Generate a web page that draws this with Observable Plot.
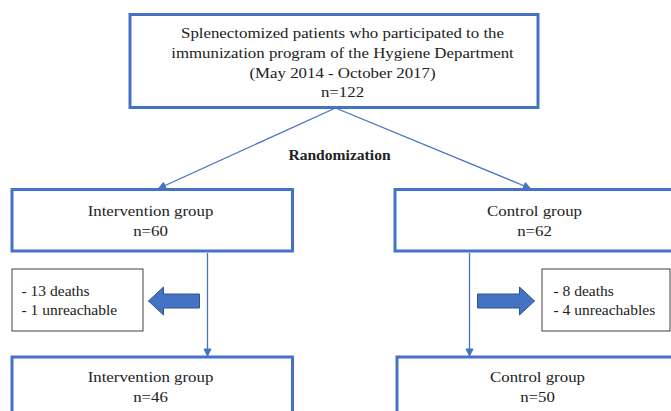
<!DOCTYPE html>
<html><head><meta charset="utf-8">
<script src="https://cdn.jsdelivr.net/npm/d3@7"></script>
<script src="https://cdn.jsdelivr.net/npm/@observablehq/plot@0.6"></script>
<style>html,body{margin:0;padding:0;background:#fff}#chart svg{display:block}</style>
</head><body><div id="chart"></div>
<script>
// ---------- data ----------
const sourceLines = ["Splenectomized patients who participated to the", "immunization program of the Hygiene Department", "(May 2014 - October 2017)"];
const enrolledN = 122;
const splitLabel = "Randomization";
const groupNames = ["Intervention group", "Control group"];
const randomizedN = [60, 62];
const deathsN = [13, 8];
const unreachableN = [1, 4];
const finalN = [46, 50];

// ---------- layout ----------
const W = 671, H = 411;
const blue = "#4472C4", darkBlue = "#2F528F", grey = "#404040";
const font = "Liberation Serif, Times New Roman, serif";
const stretch = 1.08;
const srcBox = {x1: 130, x2: 538, y1: 14.5, y2: 107.5, tx: 342, base: 96.7};
const row1 = {y1: 189.5, y2: 251, base: 235};
const exRow = {y1: 269, y2: 331, base: 315, cy: 300.5};
const row2 = {y1: 357, y2: 425, base: 401};
const cols = [
  {x1: 12, x2: 292.5, tx: 150, lineX: 207, join: 158, side: {x1: 12, x2: 143, tx: 21}, arrow: {tip: 148, tail: 199}},
  {x1: 395, x2: 676, tx: 534, lineX: 469, join: 530, side: {x1: 542, x2: 670, tx: 553}, arrow: {tip: 534, tail: 477}}
];
const cols2 = [{x1: 12, x2: 292.5, tx: 150}, {x1: 397, x2: 676, tx: 537}];
const hubX = 335;

// ---------- derived mark data ----------
const mainBoxes = [
  {...srcBox},
  ...cols.map(c => ({x1: c.x1, x2: c.x2, y1: row1.y1, y2: row1.y2})),
  ...cols2.map(c => ({x1: c.x1, x2: c.x2, y1: row2.y1, y2: row2.y2}))
];
const sideBoxes = cols.map(c => ({x1: c.side.x1, x2: c.side.x2, y1: exRow.y1, y2: exRow.y2}));
const connectors = [
  ...cols.map(c => ({x1: hubX, y1: srcBox.y2, x2: c.join, y2: row1.y1 - 1.5})),
  ...cols.map(c => ({x1: c.lineX, y1: row1.y2 + 1.5, x2: c.lineX, y2: row2.y1 - 1.5}))
];
function head(l, i, L = 7, w = 7) {
  const dx = l.x2 - l.x1, dy = l.y2 - l.y1, d = Math.hypot(dx, dy);
  const ux = dx / d, uy = dy / d, nx = -uy, ny = ux;
  const bx = l.x2 - ux * L, by = l.y2 - uy * L;
  return [[l.x2, l.y2], [bx + nx * w / 2, by + ny * w / 2], [bx - nx * w / 2, by - ny * w / 2], [l.x2, l.y2]]
    .map(([x, y]) => ({x, y, id: i}));
}
const heads = connectors.flatMap((l, i) => head(l, i));
function block(a, i, body = 7, hw = 14, hl = 15, cy = exRow.cy) {
  const s = Math.sign(a.tail - a.tip), hb = a.tip + s * hl;
  return [[a.tip, cy], [hb, cy - hw], [hb, cy - body], [a.tail, cy - body], [a.tail, cy + body], [hb, cy + body], [hb, cy + hw], [a.tip, cy]]
    .map(([x, y]) => ({x, y, id: i}));
}
const blocks = cols.flatMap((c, i) => block(c.arrow, i));

const srcText = [{x: srcBox.tx, y: srcBox.base, t: [...sourceLines, "n=" + enrolledN].join("\n")}];
const grp1Text = cols.map((c, i) => ({x: c.tx, y: row1.base, t: groupNames[i] + "\nn=" + randomizedN[i]}));
const grp2Text = cols2.map((c, i) => ({x: c.tx, y: row2.base, t: groupNames[i] + "\nn=" + finalN[i]}));
const exText = cols.map((c, i) => ({x: c.side.tx, y: exRow.base - 1,
  t: `- ${deathsN[i]} deaths\n- ${unreachableN[i]} ${unreachableN[i] === 1 ? "unreachable" : "unreachables"}`}));

const chart = Plot.plot({
  width: W, height: H, margin: 0,
  x: {domain: [0, W], range: [0, W], axis: null},
  y: {domain: [0, H], range: [0, H], axis: null},
  style: {background: "white", fontFamily: font},
  marks: [
    Plot.link(connectors, {x1: "x1", y1: "y1", x2: "x2", y2: "y2", stroke: blue, strokeWidth: 1.3}),
    Plot.line(heads, {x: "x", y: "y", z: "id", fill: blue, stroke: blue, strokeWidth: 1, curve: "linear"}),
    Plot.rect(mainBoxes, {x1: "x1", x2: "x2", y1: "y1", y2: "y2", fill: "white", stroke: blue, strokeWidth: 3}),
    Plot.rect(sideBoxes, {x1: "x1", x2: "x2", y1: "y1", y2: "y2", fill: "white", stroke: grey, strokeWidth: 1}),
    Plot.line(blocks, {x: "x", y: "y", z: "id", fill: blue, stroke: darkBlue, strokeWidth: 1}),
    Plot.text(srcText, {x: "x", y: "y", text: "t", fontSize: 15.6, lineHeight: 19.7 / 15.6, lineAnchor: "bottom", fill: "#222", fontFamily: font}),
    Plot.text(grp1Text, {x: "x", y: "y", text: "t", fontSize: 15.6, lineHeight: 19.3 / 15.6, lineAnchor: "bottom", fill: "#222", fontFamily: font}),
    Plot.text(grp2Text, {x: "x", y: "y", text: "t", fontSize: 15.6, lineHeight: 19.3 / 15.6, lineAnchor: "bottom", fill: "#222", fontFamily: font}),
    Plot.text(exText, {x: "x", y: "y", text: "t", fontSize: 14.4, lineHeight: 18.3 / 14.4, lineAnchor: "bottom", textAnchor: "start", fill: "#222", fontFamily: font}),
    Plot.text([{x: 339, y: 159, t: splitLabel}], {x: "x", y: "y", text: "t", fontSize: 15.6, fontWeight: "bold", lineAnchor: "bottom", fill: "#222", fontFamily: font, className: "bold-label"})
  ]
});
// slight horizontal widening of the regular serif labels to match the reference's wider face
d3.select(chart).selectAll("text").each(function () {
  if (this.closest(".bold-label")) return;
  const t = this.getAttribute("transform");
  if (t) this.setAttribute("transform", t + ` scale(${stretch},1)`);
});
document.getElementById("chart").appendChild(chart);
</script>
</body></html>
